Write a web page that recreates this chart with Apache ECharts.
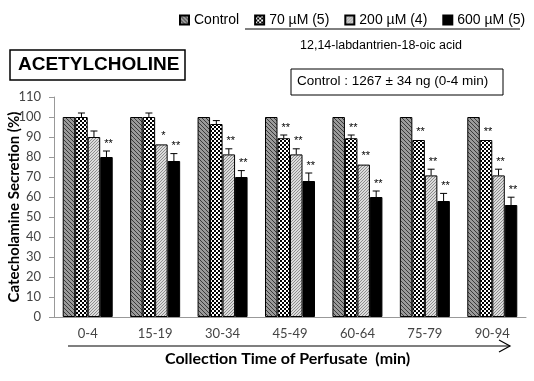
<!DOCTYPE html>
<html>
<head>
<meta charset="utf-8">
<script src="https://cdn.jsdelivr.net/npm/echarts@6/dist/echarts.min.js"></script>
<style>
  html, body { margin: 0; padding: 0; background: #fff; }
  #chart { width: 534px; height: 381px; }
</style>
</head>
<body>
<div id="chart"></div>
<script>
// data
const categories = ['0-4', '15-19', '30-34', '45-49', '60-64', '75-79', '90-94']
const seriesNames = ['Control', '70 µM (5)', '200 µM (4)', '600 µM (5)']
const control = [100, 100, 100, 100, 100, 100, 100]
const dose70 = [100, 100, 96.5, 89.4, 89.4, 88.5, 88.5]
const dose200 = [90, 86.3, 81.3, 81.3, 76.2, 70.8, 70.8]
const dose600 = [80, 78, 70, 68, 60, 58, 56]
const err70 = [2, 2, 1.7, 1.6, 1.6, 0.4, 0.4]
const err200 = [3, 0.5, 2.8, 2.8, 0.5, 3.1, 3.1]
const err600 = [3, 3.7, 3.2, 4, 3, 3.8, 3.9]
const stars70 = ['', '', '', '**', '**', '**', '**']
const stars200 = ['', '*', '**', '**', '**', '**', '**']
const stars600 = ['**', '**', '**', '**', '**', '**', '**']

// fill patterns for the bars
function makePattern(size, draw) {
  const c = document.createElement('canvas')
  c.width = size
  c.height = size
  const ctx = c.getContext('2d')
  draw(ctx)
  return { image: c, repeat: 'repeat' }
}
const patControl = makePattern(4, function (ctx) {
  ctx.fillStyle = '#9a9a9a'
  ctx.fillRect(0, 0, 4, 4)
  ctx.fillStyle = '#3a3a3a'
  for (let i = 0; i < 4; i++) ctx.fillRect(i, i, 1, 1)
})
const patDose70 = makePattern(4, function (ctx) {
  ctx.fillStyle = '#ffffff'
  ctx.fillRect(0, 0, 4, 4)
  ctx.fillStyle = '#000000'
  ctx.fillRect(0, 0, 2, 2)
  ctx.fillRect(2, 2, 2, 2)
})
const patDose200 = makePattern(3, function (ctx) {
  ctx.fillStyle = '#dcdcdc'
  ctx.fillRect(0, 0, 3, 3)
  ctx.fillStyle = '#8c8c8c'
  for (let i = 0; i < 3; i++) ctx.fillRect(2 - i, i, 1, 1)
})
const fills = [patControl, patDose70, patDose200, '#000000']

const barW = 12.5
const errData = []
;[[dose70, err70, stars70], [dose200, err200, stars200], [dose600, err600, stars600]].forEach(function (s, k) {
  s[0].forEach(function (v, i) {
    errData.push([i, v, s[1][i], k + 1, s[2][i]])
  })
})

const chart = echarts.init(document.getElementById('chart'))

const barSeries = [control, dose70, dose200, dose600].map(function (d, k) {
  return {
    name: seriesNames[k],
    type: 'bar',
    data: d,
    barWidth: barW,
    barGap: '0%',
    itemStyle: { color: fills[k], borderColor: '#000', borderWidth: 1 }
  }
})

chart.setOption({
  animation: false,
  backgroundColor: '#fff',
  legend: {
    data: seriesNames,
    left: 174,
    top: 8,
    itemWidth: 9,
    itemHeight: 9,
    itemGap: 15,
    icon: 'rect',
    textStyle: { fontFamily: 'Liberation Sans', fontSize: 14, color: '#000' }
  },
  grid: { left: 54, right: 8, top: 97, bottom: 64, outerBoundsMode: 'none', containLabel: false },
  xAxis: {
    type: 'category',
    data: categories,
    axisLine: { lineStyle: { color: '#999' } },
    axisTick: { show: false },
    axisLabel: { fontFamily: 'Lato', fontSize: 13, color: '#444', margin: 10 }
  },
  yAxis: {
    type: 'value',
    min: 0,
    max: 110,
    interval: 10,
    name: 'Catecholamine Secretion (%)',
    nameLocation: 'middle',
    nameGap: 32,
    nameMoveOverlap: false,
    nameTextStyle: { fontFamily: 'Lato', fontWeight: 'bold', fontSize: 15, color: '#000' },
    splitLine: { show: false },
    axisLine: { show: true, lineStyle: { color: '#999' } },
    axisTick: { show: true, length: 5, lineStyle: { color: '#999' } },
    axisLabel: { fontFamily: 'Lato', fontSize: 13, color: '#444', margin: 13 }
  },
  series: barSeries.concat([{
    type: 'custom',
    name: 'err',
    data: errData,
    z: 5,
    renderItem: function (params, api) {
      const cat = api.value(0)
      const v = api.value(1)
      const e = api.value(2)
      const k = api.value(3)
      const star = errData[params.dataIndex][4]
      const base = api.coord([cat, v])
      const top = api.coord([cat, v + e])
      const x = base[0] + (k - 1.5) * barW
      const children = []
      if (e > 0.6) {
        children.push({ type: 'line', shape: { x1: x, y1: base[1], x2: x, y2: top[1] }, style: { stroke: '#000', lineWidth: 1 } })
        children.push({ type: 'line', shape: { x1: x - 3.5, y1: top[1], x2: x + 3.5, y2: top[1] }, style: { stroke: '#000', lineWidth: 1 } })
      }
      if (star) {
        children.push({
          type: 'text',
          style: {
            x: x + 2, y: top[1] - 2, text: star,
            fontFamily: 'Liberation Sans', fontSize: 11, fill: '#000',
            align: 'center', verticalAlign: 'bottom'
          }
        })
      }
      return { type: 'group', children: children }
    }
  }]),
  graphic: [
    { type: 'line', shape: { x1: 245, y1: 29, x2: 520, y2: 29 }, style: { stroke: '#000', lineWidth: 1 } },
    { type: 'text', left: 300, top: 39, style: { text: '12,14-labdantrien-18-oic acid', fontFamily: 'Liberation Sans', fontSize: 12.5, fill: '#000' } },
    { type: 'rect', shape: { x: 10, y: 50, width: 175, height: 30 }, style: { fill: '#fff', stroke: '#000', lineWidth: 1.5 } },
    { type: 'text', left: 18, top: 55, style: { text: 'ACETYLCHOLINE', fontFamily: 'Liberation Sans', fontWeight: 'bold', fontSize: 19, fill: '#000' } },
    { type: 'rect', shape: { x: 291, y: 69, width: 212, height: 26 }, style: { fill: '#fff', stroke: '#000', lineWidth: 1 } },
    { type: 'text', left: 297, top: 74, style: { text: 'Control : 1267 ± 34 ng (0-4 min)', fontFamily: 'Liberation Sans', fontSize: 13.5, fill: '#000' } },
    { type: 'line', shape: { x1: 68, y1: 346, x2: 510, y2: 346 }, style: { stroke: '#000', lineWidth: 1.2 } },
    { type: 'polyline', shape: { points: [[499, 340], [510, 346], [499, 352]] }, style: { stroke: '#000', lineWidth: 1.2, fill: null } },
    { type: 'text', left: 165, top: 351, style: { text: 'Collection Time of Perfusate  (min)', fontFamily: 'Lato', fontWeight: 'bold', fontSize: 16, fill: '#000' } }
  ]
})
</script>
</body>
</html>
